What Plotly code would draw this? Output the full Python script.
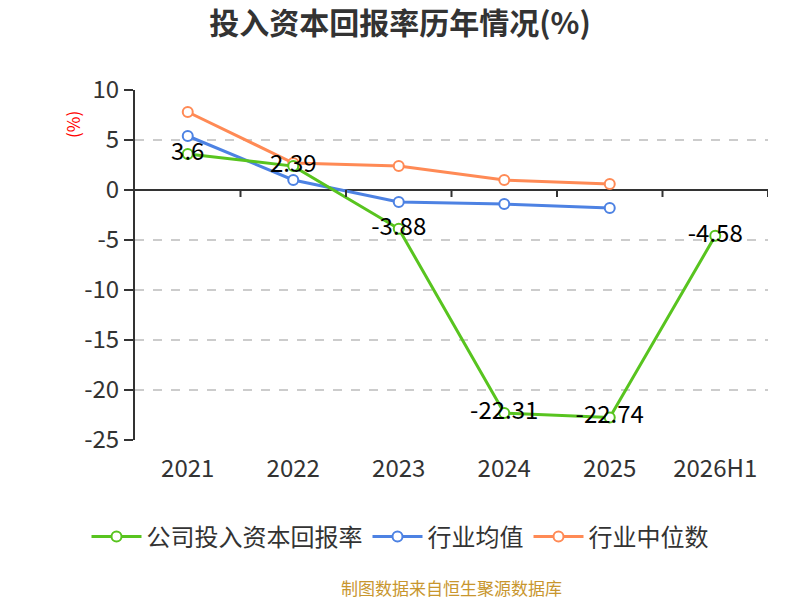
import numpy as np
import plotly.graph_objects as go

# 投入资本回报率历年情况(%)
years = ['2021', '2022', '2023', '2024', '2025', '2026H1']
company_roic = [3.6, 2.39, -3.88, -22.31, -22.74, -4.58]
industry_avg = [5.4, 1.0, -1.2, -1.4, -1.8, None]
industry_median = [7.8, 2.7, 2.4, 1.0, 0.6, None]
y_ticks = [10, 5, 0, -5, -10, -15, -20, -25]

FONT = 'Noto Sans CJK SC'
GREEN = '#58C41F'
BLUE = '#4D82E3'
ORANGE = '#FF8A55'


def series(name, values, color, labels=False):
    return go.Scatter(
        x=years, y=values, name=name,
        mode='lines+markers+text' if labels else 'lines+markers',
        text=[f'{v:g}' for v in values] if labels else None,
        textposition='middle center',
        textfont=dict(family=FONT, size=24, color='#000'),
        line=dict(color=color, width=3),
        marker=dict(symbol='circle', size=10, color='#fff',
                    line=dict(color=color, width=2)),
        connectgaps=False,
    )


fig = go.Figure()
fig.add_trace(series('行业中位数', industry_median, ORANGE))
fig.add_trace(series('行业均值', industry_avg, BLUE))
fig.add_trace(series('公司投入资本回报率', company_roic, GREEN, labels=True))

# small ticks on the zero line, between categories
for b in np.arange(len(years)) + 0.5:
    fig.add_shape(type='line', xref='x', yref='y', x0=b, x1=b,
                  ysizemode='pixel', yanchor=0, y0=0, y1=-7,
                  line=dict(color='#333', width=2))

fig.update_layout(
    width=800, height=600,
    margin=dict(l=135, r=32, t=90, b=160, autoexpand=False),
    paper_bgcolor='#fff', plot_bgcolor='#fff',
    font=dict(family=FONT, color='#333'),
    title=dict(text='<b>投入资本回报率历年情况(%)</b>', x=0.5, xanchor='center',
               y=1 - 23 / 600, yanchor='middle',
               font=dict(family=FONT, size=30, color='#333')),
    showlegend=True,
    legend=dict(orientation='h', traceorder='reversed',
                x=0.5, xanchor='center', xref='container',
                y=1 - 537 / 600, yanchor='middle', yref='container',
                font=dict(family=FONT, size=24, color='#333'),
                itemwidth=50),
)

fig.update_xaxes(
    type='category', range=[-0.5, len(years) - 0.5], automargin=False,
    showline=False, showgrid=False, zeroline=False,
    ticks='', ticklabelstandoff=12,
    tickfont=dict(family=FONT, size=24, color='#333'),
)
fig.update_yaxes(
    range=[-25, 10], tickvals=y_ticks, ticktext=[str(t) for t in y_ticks],
    automargin=False,
    showline=True, linecolor='#333', linewidth=2,
    ticks='outside', ticklen=9, tickwidth=2, tickcolor='#333',
    tickfont=dict(family=FONT, size=24, color='#333'),
    showgrid=True, gridcolor='#ccc', griddash='dash', gridwidth=1.5,
    zeroline=True, zerolinecolor='#333', zerolinewidth=2,
)

fig.add_annotation(text='(%)', xref='paper', yref='paper',
                   x=(72 - 135) / 633, y=(440 - 125) / 350,
                   xanchor='center', yanchor='middle',
                   textangle=-90, showarrow=False,
                   font=dict(family=FONT, size=17, color='#ff0000'))
fig.add_annotation(text='制图数据来自恒生聚源数据库', xref='paper', yref='paper',
                   x=0.5, y=(440 - 587) / 350, yanchor='middle',
                   showarrow=False,
                   font=dict(family=FONT, size=17, color='#C8962E'))

# drop the default 8px page margin so the figure fills the window
fig.write_html('out.html', config={'displayModeBar': False},
               post_script="document.body.style.margin='0px';")
